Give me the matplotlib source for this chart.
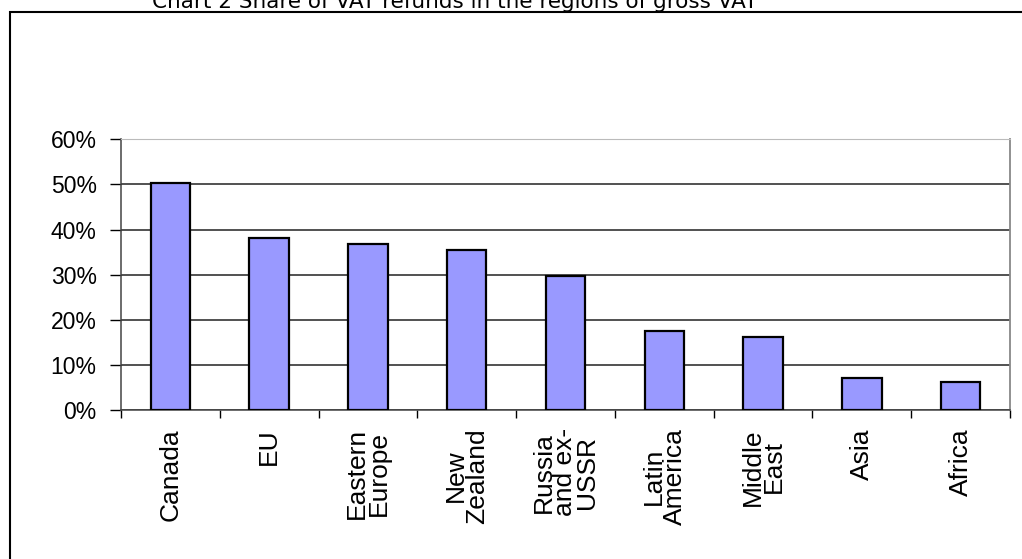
import matplotlib.pyplot as plt
import matplotlib.patches as patches
from matplotlib.ticker import FuncFormatter, FixedLocator

# data
regions = ["Canada", "EU", "Eastern\nEurope", "New\nZealand", "Russia\nand ex-\nUSSR",
           "Latin\nAmerica", "Middle\nEast", "Asia", "Africa"]
share = [50.3, 38.2, 36.8, 35.5, 29.6, 17.5, 16.1, 7.0, 6.1]
yticks = [0, 10, 20, 30, 40, 50, 60]

plt.rcParams['font.family'] = ['Liberation Sans', 'DejaVu Sans']

fig = plt.figure(figsize=(10.22, 5.59), dpi=100)
W, H = 1022, 559

# outer frame and title (title is cut off at the top in the original)
frame = patches.Rectangle((9.5 / W, -0.1), 1.2, 1 - 12 / H + 0.1, transform=fig.transFigure,
                          fill=False, edgecolor='black', linewidth=1.5, clip_on=False)
fig.patches.append(frame)
fig.text(152 / W, 1 - 7.5 / H, "Chart 2 Share of VAT refunds in the regions of gross VAT",
         ha='left', va='baseline', fontsize=15.5, family='DejaVu Sans', color='black')

ax = fig.add_axes([121 / W, 1 - 410 / H, (1010 - 121) / W, (410 - 139.3) / H])
x = list(range(len(regions)))
ax.bar(x, share, width=0.4, color='#9999ff', edgecolor='black', linewidth=1.6, zorder=3)

ax.set_xlim(-0.5, len(regions) - 0.5)
ax.set_ylim(0, 60)
ax.set_yticks(yticks)
ax.yaxis.set_major_formatter(FuncFormatter(lambda v, p: f"{int(v)}%"))
ax.tick_params(axis='y', direction='out', length=8, width=1, labelsize=16.5, pad=9.5, colors='black')

ax.set_xticks(x)
ax.set_xticklabels(regions, rotation=90, fontsize=19, ha='center', va='top',
                   multialignment='center', linespacing=0.85)
ax.xaxis.set_minor_locator(FixedLocator([i - 0.5 for i in range(len(regions) + 1)]))
ax.tick_params(axis='x', which='major', length=0, pad=13)
ax.tick_params(axis='x', which='minor', direction='out', length=6, width=1)

ax.grid(axis='y', color='#222222', linewidth=1.1, zorder=0)
ax.set_axisbelow(True)
for s in ['left', 'bottom']:
    ax.spines[s].set_color('#444444')
    ax.spines[s].set_linewidth(1.1)
ax.spines['right'].set_color('#888888')
ax.spines['right'].set_linewidth(1.3)
ax.spines['top'].set_color('#bbbbbb')

fig.savefig("out.png", dpi=100)
